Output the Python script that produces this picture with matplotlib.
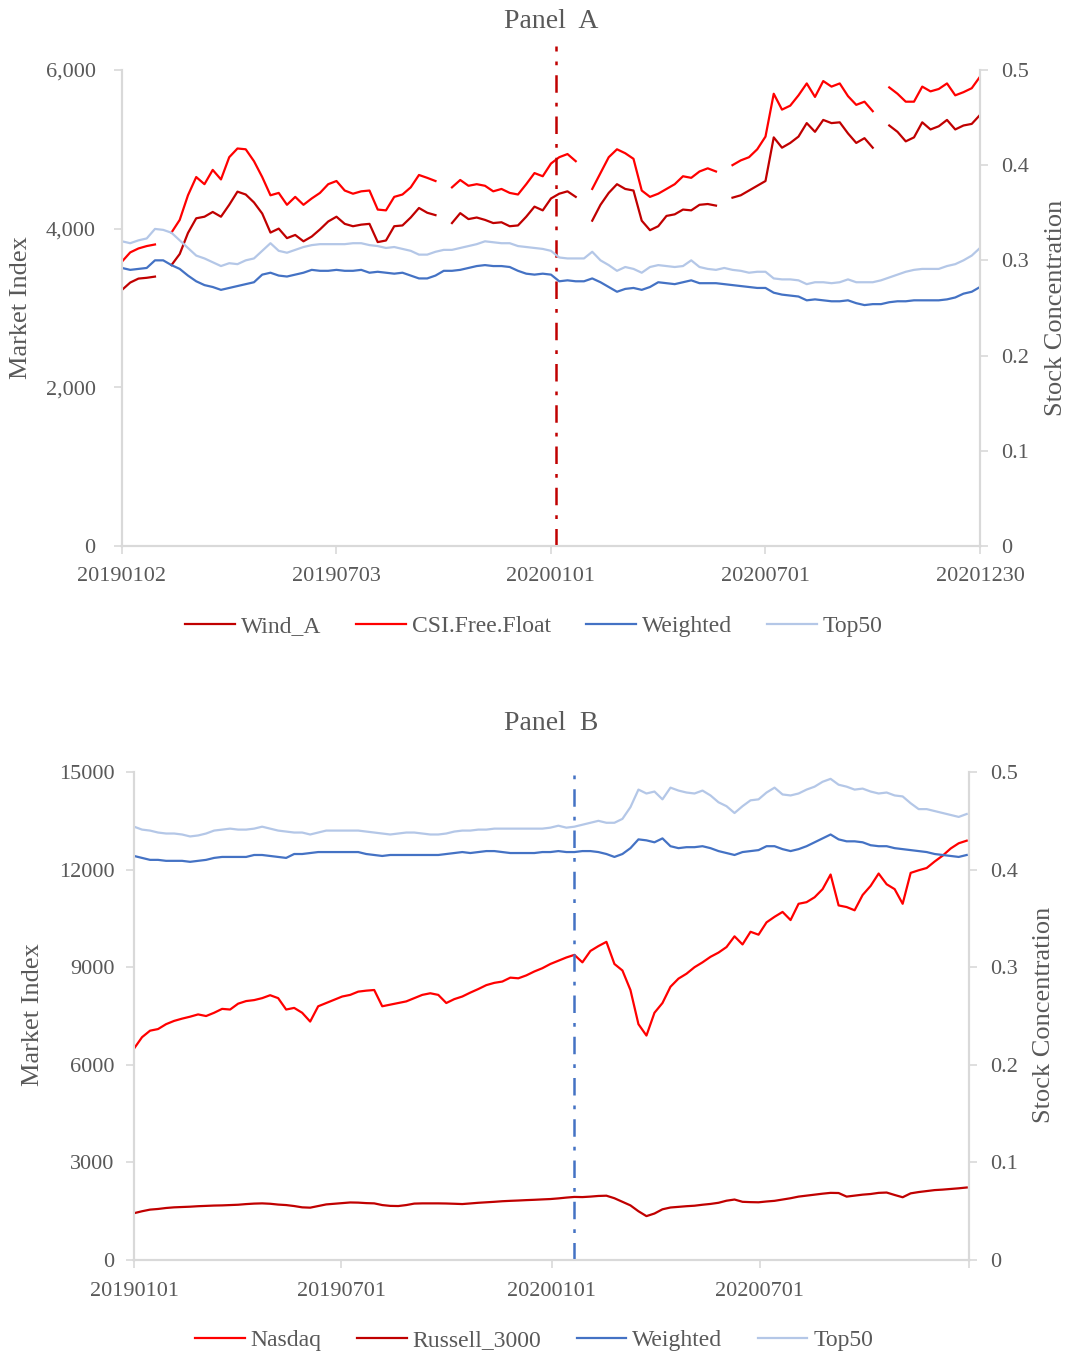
import matplotlib
matplotlib.use("Agg")
import matplotlib.pyplot as plt
from matplotlib.ticker import FuncFormatter
import numpy as np
import pandas as pd

nan = np.nan

# ---------------- Panel A data (weekly) ----------------
dates_a = pd.date_range("2019-01-02", "2020-12-30", freq="7D")

wind_a = [3227, 3320, 3370, 3380, 3395, nan, 3540, 3680, 3945, 4130,
          4150, 4210, 4150, 4300, 4466, 4430, 4330, 4190, 3950, 4000,
          3880, 3920, 3840, 3900, 3990, 4090, 4150, 4060, 4030, 4050,
          4060, 3830, 3850, 4030, 4040, 4140, 4260, 4200, 4170, nan,
          4070, 4195, 4120, 4140, 4110, 4070, 4080, 4030, 4040, 4150,
          4277, 4230, 4380, 4440, 4470, 4400, nan, 4100, 4300, 4450,
          4560, 4500, 4480, 4100, 3980, 4030, 4160, 4180, 4240, 4230,
          4300, 4310, 4290, nan, 4390, 4420, 4480, 4540, 4600, 5150,
          5020, 5080, 5160, 5330, 5220, 5370, 5330, 5340, 5200, 5080,
          5140, 5020, nan, 5300, 5220, 5100, 5150, 5340, 5250, 5290,
          5370, 5250, 5300, 5320, 5433]

csi_free_float = [3584, 3700, 3750, 3780, 3800, nan, 3950, 4110, 4420, 4650,
                  4560, 4740, 4620, 4900, 5010, 5000, 4850, 4650, 4420, 4450,
                  4300, 4400, 4300, 4380, 4450, 4560, 4600, 4480, 4440, 4470,
                  4480, 4240, 4230, 4400, 4430, 4520, 4676, 4640, 4600, nan,
                  4520, 4613, 4540, 4560, 4540, 4470, 4500, 4450, 4430, 4560,
                  4700, 4660, 4820, 4900, 4940, 4850, nan, 4500, 4700, 4900,
                  5000, 4950, 4880, 4480, 4400, 4440, 4500, 4560, 4660, 4640,
                  4720, 4760, 4720, nan, 4800, 4860, 4900, 5000, 5160, 5700,
                  5500, 5550, 5680, 5830, 5660, 5860, 5790, 5830, 5670, 5560,
                  5600, 5480, nan, 5780, 5700, 5600, 5600, 5790, 5730, 5760,
                  5830, 5680, 5720, 5770, 5915]

weighted_a = [0.292, 0.290, 0.291, 0.292, 0.300, 0.300, 0.295, 0.291, 0.284, 0.278,
              0.274, 0.272, 0.269, 0.271, 0.273, 0.275, 0.277, 0.285, 0.287, 0.284,
              0.283, 0.285, 0.287, 0.290, 0.289, 0.289, 0.290, 0.289, 0.289, 0.290,
              0.287, 0.288, 0.287, 0.286, 0.287, 0.284, 0.281, 0.281, 0.284, 0.289,
              0.289, 0.290, 0.292, 0.294, 0.295, 0.294, 0.294, 0.293, 0.289, 0.286,
              0.285, 0.286, 0.285, 0.278, 0.279, 0.278, 0.278, 0.281, 0.277, 0.272,
              0.267, 0.270, 0.271, 0.269, 0.272, 0.277, 0.276, 0.275, 0.277, 0.279,
              0.276, 0.276, 0.276, 0.275, 0.274, 0.273, 0.272, 0.271, 0.271, 0.266,
              0.264, 0.263, 0.262, 0.258, 0.259, 0.258, 0.257, 0.257, 0.258, 0.255,
              0.253, 0.254, 0.254, 0.256, 0.257, 0.257, 0.258, 0.258, 0.258, 0.258,
              0.259, 0.261, 0.265, 0.267, 0.272]

top50_a = [0.320, 0.318, 0.321, 0.323, 0.333, 0.332, 0.329, 0.321, 0.313, 0.305,
           0.302, 0.298, 0.294, 0.297, 0.296, 0.300, 0.302, 0.310, 0.318, 0.310,
           0.308, 0.311, 0.314, 0.316, 0.317, 0.317, 0.317, 0.317, 0.318, 0.318,
           0.316, 0.315, 0.313, 0.314, 0.312, 0.310, 0.306, 0.306, 0.309, 0.311,
           0.311, 0.313, 0.315, 0.317, 0.320, 0.319, 0.318, 0.318, 0.315, 0.314,
           0.313, 0.312, 0.310, 0.303, 0.302, 0.302, 0.302, 0.309, 0.300, 0.295,
           0.289, 0.293, 0.291, 0.287, 0.293, 0.295, 0.294, 0.293, 0.294, 0.300,
           0.293, 0.291, 0.290, 0.292, 0.290, 0.289, 0.287, 0.288, 0.288, 0.281,
           0.280, 0.280, 0.279, 0.275, 0.277, 0.277, 0.276, 0.277, 0.280, 0.277,
           0.277, 0.277, 0.279, 0.282, 0.285, 0.288, 0.290, 0.291, 0.291, 0.291,
           0.294, 0.296, 0.300, 0.305, 0.313]

event_a = "2020-01-05"
xticks_a = ["2019-01-02", "2019-07-03", "2020-01-01", "2020-07-01", "2020-12-30"]
xticklabels_a = ["20190102", "20190703", "20200101", "20200701", "20201230"]

# ---------------- Panel B data (weekly) ----------------
dates_b = pd.date_range("2019-01-01", "2020-12-29", freq="7D")

nasdaq = [6500, 6850, 7050, 7100, 7250, 7350, 7420, 7480, 7550, 7500,
          7600, 7720, 7700, 7880, 7960, 7990, 8050, 8140, 8050, 7700,
          7750, 7600, 7330, 7800, 7900, 8000, 8100, 8150, 8250, 8280,
          8300, 7800, 7850, 7900, 7950, 8050, 8150, 8200, 8150, 7900,
          8020, 8100, 8220, 8330, 8450, 8520, 8560, 8680, 8660, 8750,
          8870, 8970, 9100, 9200, 9300, 9380, 9150, 9500, 9650, 9780,
          9100, 8900, 8300, 7250, 6900, 7600, 7900, 8400, 8650, 8800,
          9000, 9150, 9320, 9450, 9620, 9950, 9700, 10090, 10000, 10380,
          10550, 10700, 10450, 10950, 11000, 11150, 11400, 11850, 10900, 10850,
          10750, 11220, 11500, 11880, 11550, 11400, 10950, 11900, 11980, 12050,
          12250, 12430, 12650, 12810, 12890]

russell_3000 = [1440, 1500, 1550, 1570, 1600, 1620, 1630, 1640, 1655, 1665,
                1675, 1680, 1690, 1700, 1720, 1735, 1742, 1730, 1705, 1690,
                1660, 1620, 1610, 1660, 1710, 1730, 1750, 1770, 1765, 1750,
                1742, 1690, 1665, 1660, 1690, 1735, 1742, 1742, 1742, 1738,
                1730, 1721, 1740, 1760, 1775, 1790, 1808, 1820, 1830, 1842,
                1852, 1864, 1875, 1895, 1920, 1940, 1935, 1950, 1970, 1978,
                1900, 1790, 1680, 1500, 1350, 1430, 1560, 1615, 1635, 1655,
                1670, 1700, 1725, 1760, 1824, 1860, 1790, 1780, 1775, 1800,
                1820, 1860, 1900, 1950, 1980, 2010, 2040, 2065, 2060, 1950,
                1980, 2010, 2030, 2065, 2075, 2000, 1930, 2050, 2090, 2120,
                2150, 2165, 2185, 2205, 2230]

weighted_b = [0.414, 0.412, 0.410, 0.410, 0.409, 0.409, 0.409, 0.408, 0.409, 0.410,
              0.412, 0.413, 0.413, 0.413, 0.413, 0.415, 0.415, 0.414, 0.413, 0.412,
              0.416, 0.416, 0.417, 0.418, 0.418, 0.418, 0.418, 0.418, 0.418, 0.416,
              0.415, 0.414, 0.415, 0.415, 0.415, 0.415, 0.415, 0.415, 0.415, 0.416,
              0.417, 0.418, 0.417, 0.418, 0.419, 0.419, 0.418, 0.417, 0.417, 0.417,
              0.417, 0.418, 0.418, 0.419, 0.418, 0.418, 0.419, 0.419, 0.418, 0.416,
              0.413, 0.416, 0.422, 0.431, 0.430, 0.428, 0.432, 0.424, 0.422, 0.423,
              0.423, 0.424, 0.422, 0.419, 0.417, 0.415, 0.418, 0.419, 0.420, 0.424,
              0.424, 0.421, 0.419, 0.421, 0.424, 0.428, 0.432, 0.436, 0.431, 0.429,
              0.429, 0.428, 0.425, 0.424, 0.424, 0.422, 0.421, 0.420, 0.419, 0.418,
              0.416, 0.415, 0.414, 0.413, 0.415]

top50_b = [0.444, 0.441, 0.440, 0.438, 0.437, 0.437, 0.436, 0.434, 0.435, 0.437,
           0.440, 0.441, 0.442, 0.441, 0.441, 0.442, 0.444, 0.442, 0.440, 0.439,
           0.438, 0.438, 0.436, 0.438, 0.440, 0.440, 0.440, 0.440, 0.440, 0.439,
           0.438, 0.437, 0.436, 0.437, 0.438, 0.438, 0.437, 0.436, 0.436, 0.437,
           0.439, 0.440, 0.440, 0.441, 0.441, 0.442, 0.442, 0.442, 0.442, 0.442,
           0.442, 0.442, 0.443, 0.445, 0.443, 0.444, 0.446, 0.448, 0.450, 0.448,
           0.448, 0.452, 0.464, 0.482, 0.478, 0.480, 0.472, 0.484, 0.481, 0.479,
           0.478, 0.481, 0.476, 0.469, 0.465, 0.458, 0.465, 0.471, 0.472, 0.479,
           0.484, 0.477, 0.476, 0.478, 0.482, 0.485, 0.490, 0.493, 0.487, 0.485,
           0.482, 0.483, 0.480, 0.478, 0.479, 0.476, 0.475, 0.468, 0.462, 0.462,
           0.460, 0.458, 0.456, 0.454, 0.457]

event_b = "2020-01-21"
xticks_b = ["2019-01-01", "2019-07-01", "2020-01-01", "2020-07-01", "2020-12-31"]
xticklabels_b = ["20190101", "20190701", "20200101", "20200701", ""]

# ---------------- style ----------------
FONT = ["Liberation Serif", "DejaVu Serif"]
plt.rcParams["font.family"] = FONT
TXT = "#595959"
SPINE = "#d9d9d9"
C_DARKRED = "#C00000"
C_RED = "#FF0000"
C_BLUE = "#4472C4"
C_LBLUE = "#B4C7E7"
LW = 1.6
TICK_FS = 16
LAB_FS = 19
LEG_FS = 17
TITLE_FS = 20

fig = plt.figure(figsize=(10.68, 13.53), dpi=100)


def style_axes(ax, ax2, lpad, rpad, xpad):
    for a in (ax, ax2):
        a.spines["top"].set_visible(False)
        for s in ("left", "right", "bottom"):
            a.spines[s].set_color(SPINE)
            a.spines[s].set_linewidth(1.5)
        a.tick_params(colors=SPINE, labelcolor=TXT, labelsize=TICK_FS, length=6, width=1.2)
    ax.tick_params(axis="x", pad=xpad)
    ax.tick_params(axis="y", pad=lpad)
    ax2.tick_params(axis="y", pad=rpad)


def conc_fmt(v, p):
    return "0" if abs(v) < 1e-9 else f"{v:.1f}"


def legend(ax, ax2, ypix):
    h1, l1 = ax.get_legend_handles_labels()
    h2, l2 = ax2.get_legend_handles_labels()
    fig.legend(h1 + h2, l1 + l2, loc="center", ncol=4,
               bbox_to_anchor=(0.5, 1 - ypix / 1353), frameon=False,
               fontsize=LEG_FS, labelcolor=TXT, handlelength=2.1,
               handletextpad=0.25, columnspacing=1.5)


# ---------------- Panel A ----------------
axA = fig.add_axes([0.1142, 0.5965, 0.8034, 0.3518])
axA2 = axA.twinx()
dA = pd.to_datetime(dates_a)
axA.plot(dA, wind_a, color=C_DARKRED, lw=LW, label="Wind_A", zorder=3)
axA.plot(dA, csi_free_float, color=C_RED, lw=LW, label="CSI.Free.Float", zorder=3)
axA2.plot(dA, weighted_a, color=C_BLUE, lw=LW, label="Weighted")
axA2.plot(dA, top50_a, color=C_LBLUE, lw=LW, label="Top50")
axA.set_xlim(pd.Timestamp("2019-01-02"), pd.Timestamp("2020-12-30"))
axA.set_ylim(0, 6000)
axA2.set_ylim(0, 0.5)
axA.set_yticks([0, 2000, 4000, 6000])
axA.yaxis.set_major_formatter(FuncFormatter(lambda v, p: f"{int(v):,}"))
axA2.set_yticks([0, 0.1, 0.2, 0.3, 0.4, 0.5])
axA2.yaxis.set_major_formatter(FuncFormatter(conc_fmt))
axA.set_xticks(pd.to_datetime(xticks_a))
axA.set_xticklabels(xticklabels_a)
style_axes(axA, axA2, 13, 9, 9)
axA.axvline(pd.Timestamp(event_a), ymin=0, ymax=1.05, color=C_DARKRED, lw=1.8,
            linestyle=(0, (7, 4, 1.5, 4)), clip_on=False, zorder=4)
axA.set_ylabel("Market Index", color=TXT, fontsize=LAB_FS)
axA.yaxis.set_label_coords(-0.105, 0.5)
axA2.set_ylabel("Stock Concentration", color=TXT, fontsize=LAB_FS)
axA2.yaxis.set_label_coords(1.0758, 0.5)
axA.set_title("Panel  A", color=TXT, fontsize=TITLE_FS, pad=30)
legend(axA, axA2, 626)

# ---------------- Panel B ----------------
axB = fig.add_axes([0.1255, 0.0687, 0.7818, 0.3607])
axB2 = axB.twinx()
dB = pd.to_datetime(dates_b)
axB.plot(dB, nasdaq, color=C_RED, lw=LW, label="Nasdaq", zorder=3)
axB.plot(dB, russell_3000, color=C_DARKRED, lw=LW, label="Russell_3000", zorder=3)
axB2.plot(dB, weighted_b, color=C_BLUE, lw=LW, label="Weighted")
axB2.plot(dB, top50_b, color=C_LBLUE, lw=LW, label="Top50")
axB.set_xlim(pd.Timestamp("2019-01-01"), pd.Timestamp("2020-12-31"))
axB.set_ylim(0, 15000)
axB2.set_ylim(0, 0.5)
axB.set_yticks([0, 3000, 6000, 9000, 12000, 15000])
axB.yaxis.set_major_formatter(FuncFormatter(lambda v, p: f"{int(v)}"))
axB2.set_yticks([0, 0.1, 0.2, 0.3, 0.4, 0.5])
axB2.yaxis.set_major_formatter(FuncFormatter(conc_fmt))
axB.set_xticks(pd.to_datetime(xticks_b))
axB.set_xticklabels(xticklabels_b)
style_axes(axB, axB2, 8, 9, 10)
axB.axvline(pd.Timestamp(event_b), ymin=0, ymax=1.01, color=C_BLUE, lw=1.8,
            linestyle=(0, (7, 4, 1.5, 4)), clip_on=False, zorder=4)
axB.set_ylabel("Market Index", color=TXT, fontsize=LAB_FS)
axB.yaxis.set_label_coords(-0.108, 0.502)
axB2.set_ylabel("Stock Concentration", color=TXT, fontsize=LAB_FS)
axB2.yaxis.set_label_coords(1.0766, 0.502)
axB.set_title("Panel  B", color=TXT, fontsize=TITLE_FS, pad=30)
legend(axB, axB2, 1340)

fig.savefig("out.png", dpi=100)
